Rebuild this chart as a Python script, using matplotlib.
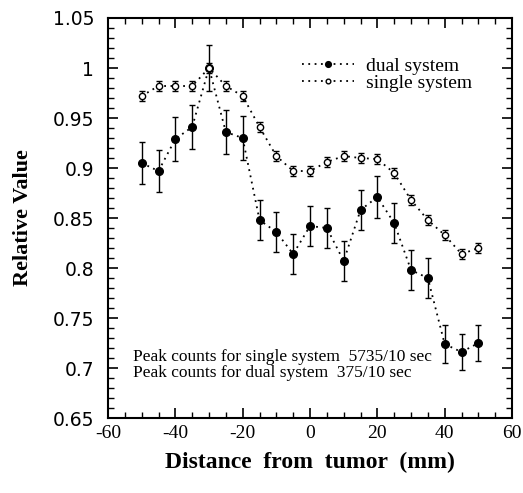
import matplotlib
matplotlib.use("Agg")
import matplotlib.pyplot as plt
from matplotlib.ticker import MultipleLocator

# distance from tumor (mm)
distance = [-50, -45, -40, -35, -30, -25, -20, -15, -10, -5, 0,
            5, 10, 15, 20, 25, 30, 35, 40, 45, 50]

# dual system
dual = [0.905, 0.897, 0.929, 0.941, 1.000, 0.936, 0.930, 0.848, 0.836, 0.814, 0.842,
        0.840, 0.807, 0.858, 0.871, 0.845, 0.798, 0.790, 0.724, 0.716, 0.725]
dual_err = [0.021, 0.021, 0.022, 0.022, 0.023, 0.022, 0.022, 0.020, 0.020, 0.020, 0.020,
            0.020, 0.020, 0.020, 0.021, 0.020, 0.020, 0.020, 0.019, 0.018, 0.018]

# single system
single = [0.972, 0.982, 0.982, 0.982, 1.000, 0.982, 0.972, 0.941, 0.912, 0.897, 0.897,
          0.906, 0.912, 0.910, 0.909, 0.895, 0.868, 0.848, 0.833, 0.814, 0.820]
single_err = [0.005, 0.005, 0.005, 0.005, 0.005, 0.005, 0.005, 0.005, 0.005, 0.005, 0.005,
              0.005, 0.005, 0.005, 0.005, 0.005, 0.005, 0.005, 0.005, 0.005, 0.005]

xticks = [-60, -40, -20, 0, 20, 40, 60]
xticklabels = ["-60", "-40", "-20", "0", "20", "40", "60"]
yticks = [0.65, 0.7, 0.75, 0.8, 0.85, 0.9, 0.95, 1.0, 1.05]
yticklabels = ["0.65", "0.7", "0.75", "0.8", "0.85", "0.9", "0.95", "1", "1.05"]

serif = "Liberation Serif"
sans = "DejaVu Sans"

fig = plt.figure(figsize=(5.23, 4.93), dpi=100)
ax = fig.add_axes([0.2065, 0.152, 0.7725, 0.8115])

eb1 = ax.errorbar(distance, dual, yerr=dual_err, fmt="o", color="black", markersize=5.5,
                  ls=(0, (1, 2.5)), lw=1.3, elinewidth=1, capsize=2.5, capthick=1)
eb2 = ax.errorbar(distance, single, yerr=single_err, fmt="o", color="black", markersize=4.5,
                  markerfacecolor="white", ls=(0, (1, 2.5)), lw=1.3, elinewidth=1,
                  capsize=2, capthick=1)

ax.set_xlim(-60, 60)
ax.set_ylim(0.65, 1.05)
ax.xaxis.set_minor_locator(MultipleLocator(5))
ax.yaxis.set_minor_locator(MultipleLocator(0.01))
ax.tick_params(which="both", direction="in", top=True, right=True)
ax.tick_params(which="major", length=7, width=1.2)
ax.tick_params(which="minor", length=4, width=1)
ax.tick_params(axis="x", pad=5)
ax.tick_params(axis="y", pad=10)
for s in ax.spines.values():
    s.set_linewidth(1.5)

ax.set_xticks(xticks)
ax.set_xticklabels(xticklabels, family=serif, fontsize=14)
ax.set_yticks(yticks)
ax.set_yticklabels(yticklabels, family=sans, fontsize=13.5)

ax.set_xlabel("Distance  from  tumor  (mm)", family=serif, fontweight="bold",
              fontsize=17, labelpad=7)
ax.set_ylabel("Relative Value", family=serif, fontweight="bold", fontsize=16,
              labelpad=14)

ax.text(-52.5, 0.711, "Peak counts for single system  5735/10 sec",
        family=serif, fontsize=12.5, va="center")
ax.text(-52.5, 0.695, "Peak counts for dual system  375/10 sec",
        family=serif, fontsize=12.5, va="center")

leg = ax.legend([eb1.lines[0], eb2.lines[0]], ["dual system", "single system"],
                loc="upper left", bbox_to_anchor=(0.455, 0.927), frameon=False,
                prop={"family": serif, "size": 14}, handlelength=2.7,
                handletextpad=0.6, labelspacing=0.0, borderpad=0,
                markerscale=0.75)

fig.savefig("out.png", dpi=100)
